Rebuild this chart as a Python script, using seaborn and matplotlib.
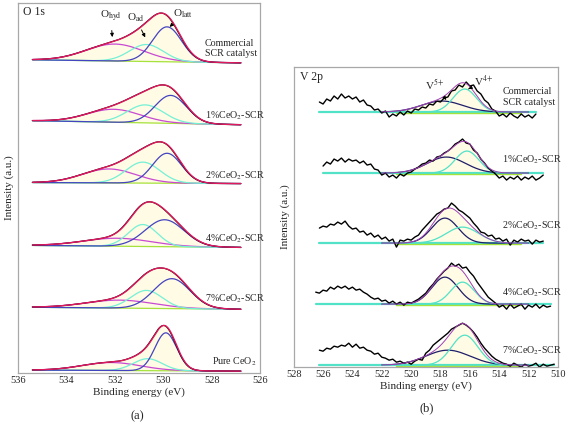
import numpy as np
import matplotlib
matplotlib.use('Agg')
import matplotlib.pyplot as plt
import seaborn as sns

sns.set_theme(style='white')
plt.rcParams['font.family'] = ['Liberation Serif', 'DejaVu Serif']
plt.rcParams['mathtext.fontset'] = 'stix'

# ---------------- O 1s panel (a) ----------------
o1s_labels = ['Commercial\nSCR catalyst', '1%CeO$_2$-SCR', '2%CeO$_2$-SCR',
              '4%CeO$_2$-SCR', '7%CeO$_2$-SCR', 'Pure CeO$_2$']
o1s_range = (535.4, 526.8)
# background level at the high-BE and low-BE ends (stack offsets)
o1s_bg_left = [314, 253, 191, 128, 66, 3]
o1s_bg_right = [311, 249, 190, 126, 64, 2]
# fitted peaks: (centre eV, height, sigma eV)
o1s_latt = [(529.85, 35, 0.60), (529.70, 28, 0.65), (529.85, 30, 0.60),
            (529.95, 27, 0.80), (529.65, 30, 0.75), (529.90, 38, 0.45)]
o1s_ad = [(530.70, 17, 0.70), (530.75, 18, 0.75), (530.85, 21, 0.70),
          (530.85, 22, 0.60), (530.70, 18, 0.65), (530.65, 12, 0.60)]
o1s_hyd = [(532.00, 17, 1.20), (532.05, 13, 1.10), (532.25, 14, 1.10),
           (531.90, 8, 1.40), (531.80, 8, 1.40), (532.15, 8, 1.20)]

# ---------------- V 2p panel (b) ----------------
v2p_labels = ['Commercial\nSCR catalyst', '1%CeO$_2$-SCR', '2%CeO$_2$-SCR',
              '4%CeO$_2$-SCR', '7%CeO$_2$-SCR']
v2p_base = [255, 194, 124, 63, 2]
v2p_start = [526.25, 526.00, 526.25, 526.50, 526.25]
v2p_step = 0.25
v2p_raw = [
    [10, 8, 13, 11, 16, 13, 18, 14, 16, 13, 15, 10, 12, 7, 6, 2, 3, -1, 1, -5,
     -2, -4, 0, -3, 1, -1, 3, 2, 5, 4, 8, 7, 11, 10, 14, 15, 21, 22, 27, 25,
     30, 26, 27, 21, 18, 12, 9, 3, 1, -4, -2, -5, -1, -4, -6, -2, -5, -3, -6, -2],
    [7, 11, 9, 14, 12, 15, 11, 14, 12, 13, 10, 12, 8, 9, 4, 3, -2, 0, -4, -2,
     -5, -1, -3, 0, 1, 4, 6, 9, 10, 13, 12, 16, 17, 20, 22, 25, 29, 31, 34, 30,
     29, 23, 20, 14, 10, 5, 2, -1, -5, -3, -7, -4, -6, -3, -7, -4, -6, -3, -7, -5, -2],
    [15, 17, 16, 19, 18, 21, 19, 22, 17, 14, 15, 11, 12, 8, 10, 6, 8, 4, 6, 2,
     4, -4, 3, 2, 4, 3, 6, 8, 13, 17, 21, 25, 29, 31, 34, 35, 40, 37, 33, 31,
     28, 25, 20, 16, 11, 10, 7, 8, 4, 5, 2, 4, -2, 3, 1, 4, 2, 3, -1, 3, 1, 2],
    [12, 11, 14, 13, 17, 15, 18, 16, 18, 15, 17, 14, 15, 12, 10, 7, 5, 6, 3, 4,
     1, 3, 0, 2, -1, 2, 1, 3, 5, 8, 11, 16, 20, 25, 29, 33, 36, 41, 38, 40,
     36, 37, 32, 28, 22, 17, 12, 7, 4, 1, -3, -1, -5, 0, -4, -2, 0, -5, -1, -3,
     0, -4, -1, -3, -2],
    [15, 14, 17, 16, 19, 18, 20, 19, 22, 18, 21, 17, 18, 15, 14, 11, 12, 8, 7, 5,
     6, 3, 4, 2, 3, 1, 4, 6, 5, 12, 15, 20, 23, 26, 29, 32, 36, 38, 40, 42,
     40, 37, 33, 28, 22, 17, 13, 9, 6, 4, 2, 1, -1, 2, 0, -2, 1, -1, 0, 2,
     -2, 1, -1, 0, 1],
]
v5_peaks = [(517.90, 11, 1.40), (517.60, 16, 1.30), (517.70, 25, 0.90),
            (517.70, 27, 0.90), (517.50, 15, 1.50)]
v4_peaks = [(516.35, 23, 0.80), (516.20, 22, 0.80), (516.50, 16, 1.10),
            (516.50, 22, 0.80), (516.35, 30, 0.90)]
v2p_fit_range = (522.0, 512.0)
v2p_bg_range = (521.0, 512.5)

# colours
C_ENV = '#e0185e'
C_LATT = '#4444c0'
C_AD = '#74f0d6'
C_HYD = '#c84ad2'
C_BG = '#a6e23c'
C_FILL = '#fffbe4'
C_V5 = '#1e1e6a'
C_V4 = '#52e2c8'
C_VENV = '#a040b0'
C_FRAME = '#a8a8a8'
FS = 7.2


def gauss(x, peak):
    c, h, s = peak
    return h * np.exp(-0.5 * ((x - c) / s) ** 2)


def line(ax, x, y, color, lw):
    sns.lineplot(x=x, y=y, ax=ax, color=color, lw=lw, sort=False,
                 estimator=None, legend=False)


def style_axes(ax, xlim, xticks, ylim):
    ax.set_xlim(*xlim)
    ax.set_ylim(*ylim)
    ax.set_xticks(xticks)
    ax.set_yticks([])
    ax.tick_params(axis='x', length=0, pad=2, labelsize=7.5)
    for sp in ax.spines.values():
        sp.set_color(C_FRAME)
        sp.set_linewidth(0.9)
    ax.set_xlabel('Binding energy (eV)', fontsize=8, labelpad=2)
    ax.set_ylabel('Intensity (a.u.)', fontsize=8, labelpad=3)


fig = plt.figure(figsize=(5.67, 4.24), dpi=100)
ax_a = fig.add_axes([0.032, 0.120, 0.427, 0.873])
ax_b = fig.add_axes([0.518, 0.134, 0.466, 0.708])

# ---- panel (a) ----
x = np.linspace(o1s_range[0], o1s_range[1], 300)
for i in range(len(o1s_labels)):
    bg = np.interp(x, [o1s_range[1], o1s_range[0]], [o1s_bg_right[i], o1s_bg_left[i]])
    latt = gauss(x, o1s_latt[i])
    ad = gauss(x, o1s_ad[i])
    hyd = gauss(x, o1s_hyd[i])
    env = latt + ad + hyd
    ax_a.fill_between(x, bg, bg + env, color=C_FILL, lw=0, zorder=1)
    line(ax_a, x, bg, C_BG, 0.9)
    line(ax_a, x, bg + hyd, C_HYD, 0.9)
    line(ax_a, x, bg + ad, C_AD, 0.9)
    line(ax_a, x, bg + latt, C_LATT, 0.9)
    line(ax_a, x + 0.02, bg + env, 'black', 0.8)
    line(ax_a, x, bg + env, C_ENV, 1.0)

o1s_label_pos = [(528.28, 325), (528.30, 258), (528.30, 198),
                 (528.30, 135), (528.30, 75), (528.00, 11)]
for lab, (lx, ly) in zip(o1s_labels, o1s_label_pos):
    ax_a.text(lx, ly, lab, fontsize=FS, ha='left', va='center', linespacing=1.15)

ax_a.text(535.8, 362, 'O 1s', fontsize=8.5, ha='left', va='center')
arrow = dict(arrowstyle='-|>', color='black', lw=0.7, mutation_scale=5)
ax_a.annotate('O$_{\\rm hyd}$', xy=(532.1, 334), xytext=(532.18, 357),
              fontsize=8, ha='center', va='center', arrowprops=arrow)
ax_a.annotate('O$_{\\rm ad}$', xy=(530.7, 334), xytext=(531.15, 356),
              fontsize=8, ha='center', va='center', arrowprops=arrow)
ax_a.annotate('O$_{\\rm latt}$', xy=(529.82, 345), xytext=(529.2, 360),
              fontsize=8, ha='center', va='center', arrowprops=arrow)
style_axes(ax_a, (536, 526), [536, 534, 532, 530, 528, 526], (0, 371))

# ---- panel (b) ----
for i in range(len(v2p_labels)):
    vals = np.array(v2p_raw[i], dtype=float)
    be = v2p_start[i] - v2p_step * np.arange(len(vals))
    xs = np.linspace(be[0], be[-1], 300)
    xf = np.linspace(v2p_fit_range[0], v2p_fit_range[1], 200)
    base = v2p_base[i]
    v5 = gauss(xf, v5_peaks[i])
    v4 = gauss(xf, v4_peaks[i])
    env = v5 + v4
    ax_b.fill_between(xf, base, base + env, color=C_FILL, lw=0, zorder=1)
    line(ax_b, xs, np.full_like(xs, base), C_V4, 1.6)
    xg = np.linspace(v2p_bg_range[0], v2p_bg_range[1], 50)
    line(ax_b, xg, np.full_like(xg, base - 0.8), C_BG, 1.0)
    line(ax_b, xf, base + v5, C_V5, 0.9)
    line(ax_b, xf, base + v4, C_V4, 0.9)
    line(ax_b, be, base + vals, 'black', 1.0)
    line(ax_b, xf, base + env, C_VENV, 0.7)

v2p_label_pos = [(513.75, 270), (513.8, 207), (513.8, 141), (513.8, 74), (513.8, 16)]
for lab, (lx, ly) in zip(v2p_labels, v2p_label_pos):
    ax_b.text(lx, ly, lab, fontsize=FS, ha='left', va='center', linespacing=1.15)

ax_b.text(527.6, 290, 'V 2p', fontsize=8.5, ha='left', va='center')
ax_b.annotate('V$^{5{+}}$', xy=(517.6, 267), xytext=(518.4, 282),
              fontsize=8, ha='center', va='center', arrowprops=arrow)
ax_b.annotate('V$^{4{+}}$', xy=(516.1, 278), xytext=(515.05, 286),
              fontsize=8, ha='center', va='center', arrowprops=arrow)
style_axes(ax_b, (528, 510), list(range(528, 509, -2)), (0, 300))

fig.text(137 / 567, 1 - 416 / 424, '(a)', fontsize=9, ha='center', va='center')
fig.text(427 / 567, 1 - 408 / 424, '(b)', fontsize=9, ha='center', va='center')

fig.savefig('out.png', dpi=100)
